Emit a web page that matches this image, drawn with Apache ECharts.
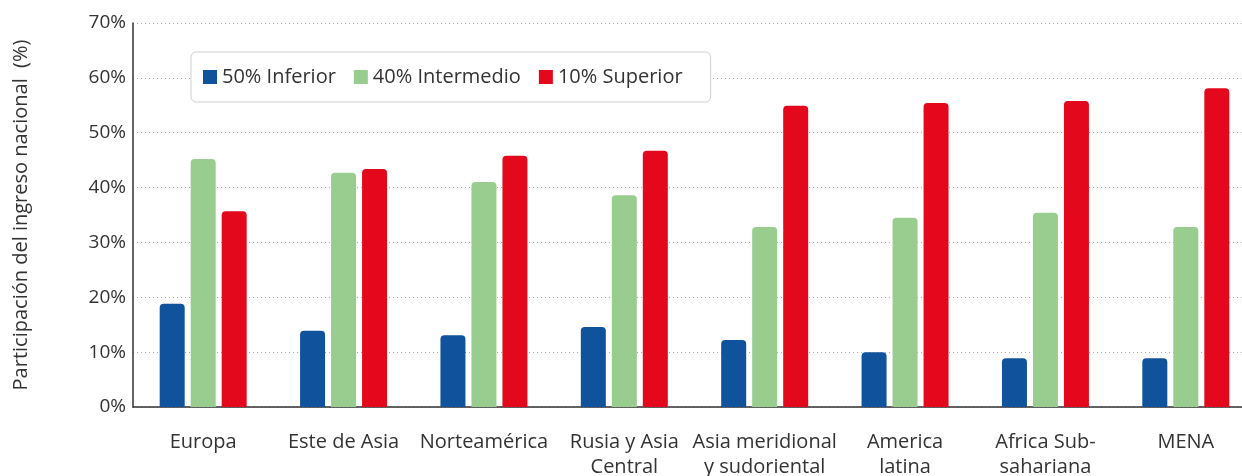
<!DOCTYPE html>
<html><head><meta charset="utf-8">
<script src="https://cdn.jsdelivr.net/npm/echarts@6/dist/echarts.min.js"></script>
<style>html,body{margin:0;padding:0;background:#fff}#c{width:1242px;height:476px}</style>
</head><body><div id="c"></div>
<script>
const categories = ['Europa','Este de Asia','Norteamérica','Rusia y Asia\nCentral','Asia meridional\ny sudoriental','America\nlatina','Africa Sub-\nsahariana','MENA'];
const inferior50 = [18.8,13.9,13.1,14.6,12.2,10.0,8.9,8.9];
const intermedio40 = [45.2,42.7,41.0,38.6,32.8,34.5,35.4,32.8];
const superior10 = [35.7,43.4,45.8,46.7,54.9,55.4,55.8,58.1];
const seriesNames = ['50% Inferior','40% Intermedio','10% Superior'];
const yTicks = [0,10,20,30,40,50,60,70];

const font = '"Open Sans", Lato, sans-serif';
const chart = echarts.init(document.getElementById('c'));
const mk = (name, data, color) => ({
  name, type:'bar', data, barWidth:25, barGap:'24%',
  itemStyle:{color, borderRadius:[4,4,0,0]}
});
chart.setOption({
  animation:false,
  textStyle:{fontFamily:font},
  legend:{
    left:191, top:52, padding:[15,28,15,12],
    backgroundColor:'#fff', borderColor:'#cfcfcf', borderWidth:1, borderRadius:5,
    itemWidth:14, itemHeight:14, itemGap:18,
    icon:'rect',
    textStyle:{fontFamily:font, fontSize:20, color:'#333'},
    data:seriesNames
  },
  grid:{left:133, right:-14, top:23, bottom:69, outerBoundsMode:'none', containLabel:false},
  xAxis:{
    type:'category', data:categories,
    axisLine:{lineStyle:{color:'#333', width:1.5}},
    axisTick:{show:false},
    axisLabel:{fontFamily:font, fontSize:20, color:'#333', margin:23, lineHeight:25, interval:0}
  },
  yAxis:{
    type:'value', min:0, max:70, interval:10,
    name:'Participación del ingreso nacional  (%)',
    nameLocation:'middle', nameGap:102, nameRotate:90,
    nameTextStyle:{fontFamily:font, fontSize:20, color:'#333'},
    axisLine:{show:true, lineStyle:{color:'#333', width:1.5}},
    axisTick:{show:false},
    axisLabel:{fontFamily:font, fontSize:19, color:'#333', margin:7,
      formatter:v => yTicks.includes(v) ? v + '%' : ''},
    splitLine:{lineStyle:{color:'#aaa', type:[1,3], width:1}}
  },
  series:[
    mk(seriesNames[0], inferior50, '#10529b'),
    mk(seriesNames[1], intermedio40, '#99cc8f'),
    mk(seriesNames[2], superior10, '#e3081b')
  ]
});
</script></body></html>
